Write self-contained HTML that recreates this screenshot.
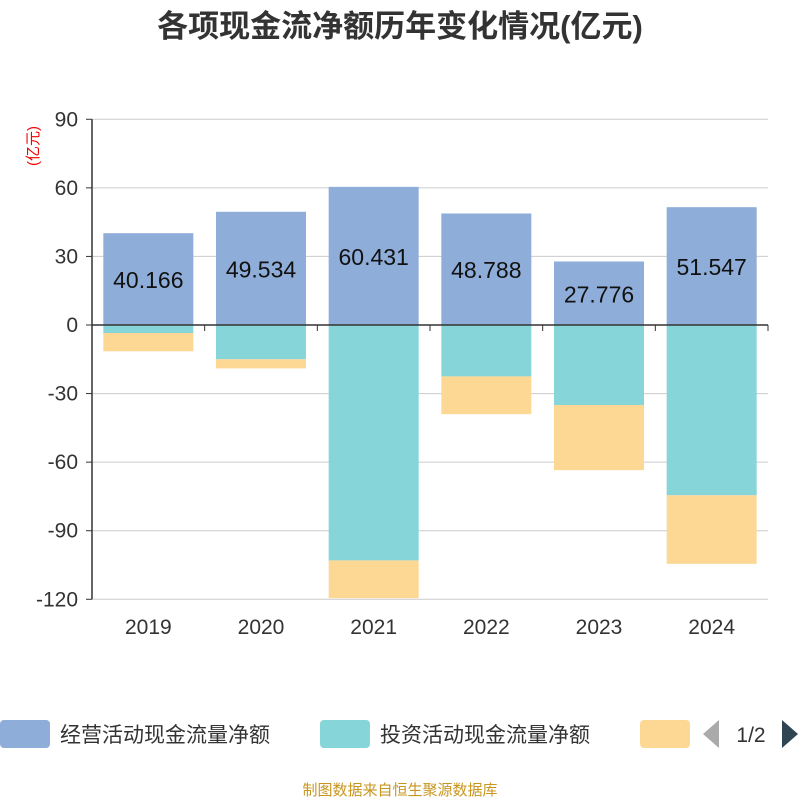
<!DOCTYPE html>
<html><head><meta charset="utf-8"><style>
body{margin:0;background:#fff;width:800px;height:800px;overflow:hidden;font-family:"Liberation Sans","Noto Sans CJK SC",sans-serif}
</style></head><body>
<svg id="c" width="800" height="800" xmlns="http://www.w3.org/2000/svg"></svg>
<script>
const categories=["2019","2020","2021","2022","2023","2024"];
const operating=[40.166,49.534,60.431,48.788,27.776,51.547];
const investing=[-3.5,-15,-103,-22.5,-35,-74.5];
const financing=[-8,-4,-16.5,-16.5,-28.5,-30];
const yTicks=[90,60,30,0,-30,-60,-90,-120];
const svg=document.getElementById('c');
const NS='http://www.w3.org/2000/svg';
const x0=92,x1=768,y0=325,k=(601-121)/210;
const y=v=>y0-v*k;
const bw=(x1-x0)/categories.length;
function el(t,a,txt){const e=document.createElementNS(NS,t);for(const n in a)e.setAttribute(n,a[n]);if(txt!=null)e.textContent=txt;svg.appendChild(e);return e;}
let t=el('text',{x:400,y:37,'text-anchor':'middle','font-size':31,'font-weight':'bold',fill:'#333'},'各项现金流净额历年变化情况(亿元)');

t=el('text',{x:38,y:146,'text-anchor':'middle','font-size':15,fill:'#e00',transform:'rotate(-90 38 146)'},'(亿元)');

yTicks.forEach(v=>{
 const g=el('line',{x1:x0,x2:x1,y1:y(v),y2:y(v),stroke:'#ccc','stroke-width':1});
 
 const l=el('text',{x:x0-14,y:y(v)+7,'text-anchor':'end','font-size':21,fill:'#333'},String(v));
 
 el('line',{x1:x0-6,x2:x0,y1:y(v),y2:y(v),stroke:'#333'});
});
let a=el('line',{x1:x0,x2:x0,y1:y(90),y2:y(-120),stroke:'#333','stroke-width':1.5});

categories.forEach((c,i)=>{
 const cx=x0+bw*(i+0.5),bx=cx-45;
 let r=el('rect',{x:bx,y:y(operating[i]),width:90,height:y(0)-y(operating[i]),fill:'#8eadd9'});
 
 r=el('rect',{x:bx,y:y(0),width:90,height:y(investing[i])-y(0),fill:'#86d5d8'});
 
 const s=investing[i];
 r=el('rect',{x:bx,y:y(s),width:90,height:y(s+financing[i])-y(s),fill:'#fdd895'});
 
 const lb=el('text',{x:cx,y:(y(operating[i])+y(0))/2+9,'text-anchor':'middle','font-size':23,fill:'#111'},operating[i].toFixed(3));
 
 const xl=el('text',{x:cx,y:634,'text-anchor':'middle','font-size':21,fill:'#333'},c);
 
 el('line',{x1:x0+bw*i,x2:x0+bw*i,y1:y0,y2:y0+6,stroke:'#333'});
});
el('line',{x1:x1,x2:x1,y1:y0,y2:y0+6,stroke:'#333'});
a=el('line',{x1:x0,x2:x1,y1:y0,y2:y0,stroke:'#333','stroke-width':1.5});

const leg=[['#8eadd9','经营活动现金流量净额',0],['#86d5d8','投资活动现金流量净额',320],['#fdd895','',640]];
leg.forEach(([col,txt,lx],i)=>{
 const r=el('rect',{x:lx,y:720,width:50,height:28,rx:4,fill:col});
 
 if(txt){const tt=el('text',{x:lx+60,y:742,'font-size':21,fill:'#333'},txt);
 }
});
let p=el('polygon',{points:'703,734 719,720 719,748',fill:'#aaa'});

t=el('text',{x:751,y:742,'text-anchor':'middle','font-size':21,fill:'#333'},'1/2');

p=el('polygon',{points:'782,720 798,734 782,748',fill:'#2f4554'});

t=el('text',{x:400,y:795,'text-anchor':'middle','font-size':15,fill:'#c8961e'},'制图数据来自恒生聚源数据库');

</script>
</body></html>
